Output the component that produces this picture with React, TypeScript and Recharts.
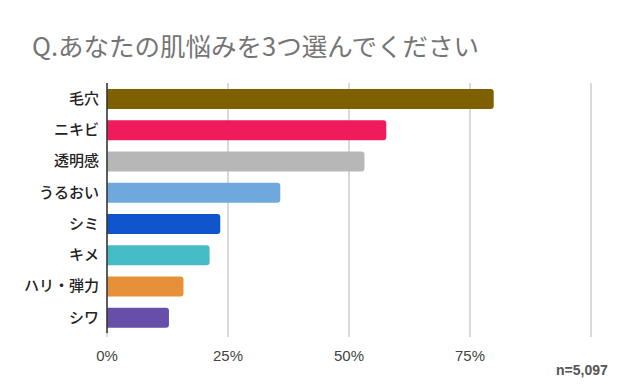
import { BarChart, Bar, XAxis, YAxis, CartesianGrid, Cell } from "recharts";

const categories = ["毛穴", "ニキビ", "透明感", "うるおい", "シミ", "キメ", "ハリ・弾力", "シワ"];
const shares = [79.9, 57.7, 53.2, 35.8, 23.4, 21.2, 15.8, 12.8];
const barColors = ["#7f6000", "#ef1b5b", "#b7b7b7", "#6fa8dc", "#1155cc", "#46bdc6", "#e69138", "#674ea7"];
const xTicks = [0, 25, 50, 75, 100];
const xTickLabels = ["0%", "25%", "50%", "75%", ""];

const title = "Q.あなたの肌悩みを3つ選んでください";
const note = "n=5,097";

const data = categories.map((name, i) => ({ name, value: shares[i] }));

const fontStack = "'Liberation Sans', Arial, 'Noto Sans CJK JP', sans-serif";

export default function App() {
  return (
    <div
      style={{
        position: "fixed",
        left: 0,
        top: 0,
        width: 638,
        height: 391,
        background: "#fff",
        fontFamily: fontStack,
      }}
    >
      <div
        style={{
          position: "absolute",
          left: 32,
          top: 29,
          fontSize: 25.5,
          color: "#757575",
          fontFamily: "'Noto Sans CJK JP', sans-serif",
          whiteSpace: "nowrap",
          lineHeight: "32px",
        }}
      >
        {title}
      </div>
      <BarChart
        width={638}
        height={391}
        data={data}
        layout="vertical"
        margin={{ top: 83, right: 47, bottom: 18, left: 0 }}
        barSize={20}
      >
        <CartesianGrid horizontal={false} stroke="#cccccc" strokeWidth={1.5} />
        <XAxis
          type="number"
          domain={[0, 100]}
          ticks={xTicks}
          tickFormatter={(v: number) => xTickLabels[xTicks.indexOf(v)]}
          axisLine={false}
          tickLine={{ stroke: "#cccccc", strokeWidth: 1.5 }}
          tickSize={4}
          tickMargin={13}
          height={40}
          tick={{ fill: "#444", fontSize: 15, fontFamily: fontStack }}
        />
        <YAxis
          type="category"
          dataKey="name"
          width={107}
          tickLine={false}
          tickSize={0}
          tickMargin={8}
          axisLine={{ stroke: "#333", strokeWidth: 1.5 }}
          tick={{
            fill: "#222",
            fontSize: 15,
            fontWeight: 500,
            fontFamily: "'Noto Sans CJK JP', sans-serif",
          }}
        />
        <Bar dataKey="value" radius={[0, 3, 3, 0]} isAnimationActive={false}>
          {data.map((d, i) => (
            <Cell key={d.name} fill={barColors[i]} />
          ))}
        </Bar>
      </BarChart>
      <div
        style={{
          position: "absolute",
          left: 556,
          top: 361,
          fontSize: 14,
          color: "#555",
          fontWeight: "bold",
          whiteSpace: "nowrap",
          lineHeight: "18px",
        }}
      >
        {note}
      </div>
    </div>
  );
}
